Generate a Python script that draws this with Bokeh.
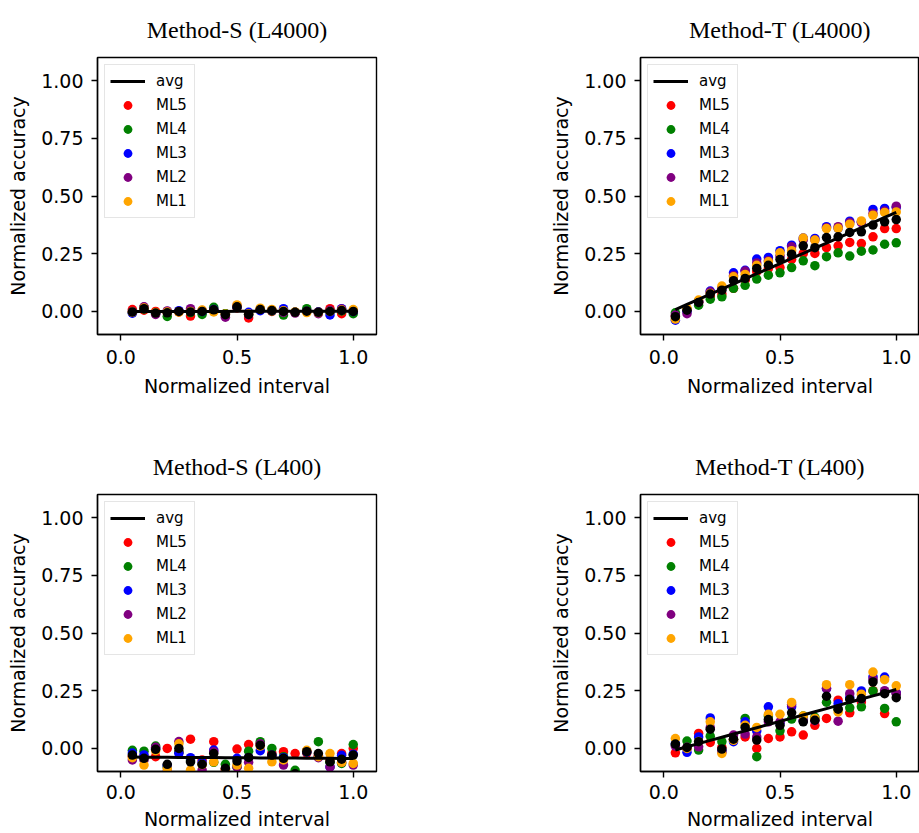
import numpy as np
from bokeh.plotting import figure
from bokeh.layouts import column, row
from bokeh.models import Legend, LegendItem, FixedTicker, PrintfTickFormatter, Range1d
from bokeh.embed import file_html
from bokeh.resources import INLINE

# Normalized interval positions shared by all panels
interval = [0.05, 0.10, 0.15, 0.20, 0.25, 0.30, 0.35, 0.40, 0.45, 0.50,
            0.55, 0.60, 0.65, 0.70, 0.75, 0.80, 0.85, 0.90, 0.95, 1.00]

# Method-S (L4000)
s4000_ml5 = [0.008, 0.005, 0.000, -0.005, -0.002, -0.020, -0.004, 0.005, -0.010, 0.015,
             -0.028, 0.008, 0.000, 0.003, -0.004, 0.000, -0.002, 0.012, -0.010, 0.000]
s4000_ml4 = [-0.005, 0.010, -0.010, -0.022, 0.000, -0.005, -0.013, 0.018, -0.010, 0.018,
             -0.012, 0.008, 0.002, -0.016, -0.004, 0.012, -0.004, -0.001, 0.002, -0.010]
s4000_ml3 = [-0.008, 0.018, -0.008, 0.000, 0.003, 0.005, 0.000, 0.008, -0.015, 0.020,
             -0.004, 0.003, 0.004, 0.012, -0.004, 0.000, -0.003, -0.015, 0.012, 0.000]
s4000_ml2 = [0.000, 0.020, -0.013, 0.002, 0.000, 0.012, 0.004, 0.006, -0.025, 0.025,
             -0.015, 0.010, 0.006, -0.004, -0.007, 0.000, -0.010, 0.005, 0.010, 0.002]
s4000_ml1 = [-0.003, 0.015, -0.005, -0.002, -0.003, 0.000, 0.006, -0.002, -0.012, 0.028,
             -0.010, 0.014, 0.008, 0.003, -0.002, -0.005, -0.005, 0.000, 0.006, 0.008]
s4000_avg = [-0.002, 0.012, -0.007, -0.006, 0.000, -0.002, 0.000, 0.007, -0.014, 0.020,
             -0.013, 0.008, 0.004, 0.000, -0.004, 0.001, -0.004, 0.000, 0.004, 0.000]

# Method-T (L4000)
t4000_ml5 = [-0.020, 0.010, 0.040, 0.065, 0.075, 0.100, 0.135, 0.172, 0.186, 0.190,
             0.225, 0.251, 0.251, 0.276, 0.284, 0.299, 0.294, 0.323, 0.359, 0.359]
t4000_ml4 = [-0.006, 0.008, 0.027, 0.053, 0.063, 0.100, 0.113, 0.140, 0.157, 0.167,
             0.190, 0.219, 0.198, 0.237, 0.254, 0.240, 0.261, 0.266, 0.291, 0.297]
t4000_ml3 = [-0.038, 0.000, 0.045, 0.088, 0.100, 0.167, 0.178, 0.227, 0.234, 0.263,
             0.287, 0.318, 0.316, 0.367, 0.360, 0.391, 0.388, 0.442, 0.446, 0.450]
t4000_ml2 = [-0.016, -0.010, 0.042, 0.085, 0.100, 0.155, 0.175, 0.210, 0.220, 0.240,
             0.280, 0.310, 0.310, 0.362, 0.367, 0.385, 0.385, 0.424, 0.435, 0.456]
t4000_ml1 = [-0.033, 0.012, 0.049, 0.078, 0.110, 0.150, 0.160, 0.200, 0.215, 0.254,
             0.263, 0.318, 0.309, 0.359, 0.360, 0.378, 0.392, 0.417, 0.429, 0.431]
t4000_avg = [-0.023, 0.005, 0.039, 0.075, 0.092, 0.133, 0.143, 0.186, 0.200, 0.225,
             0.248, 0.284, 0.276, 0.320, 0.323, 0.342, 0.345, 0.374, 0.388, 0.398]

# Method-S (L400)
s400_ml5 = [-0.035, -0.035, -0.036, 0.000, -0.015, 0.040, -0.050, 0.029, -0.090, -0.003,
            0.017, 0.020, -0.020, -0.014, -0.022, -0.020, -0.030, -0.050, -0.022, 0.000]
s400_ml4 = [-0.008, -0.012, 0.010, -0.080, -0.015, -0.050, -0.070, -0.060, -0.069, -0.080,
            -0.012, 0.029, 0.000, -0.036, -0.095, -0.015, 0.029, -0.060, -0.065, 0.017]
s400_ml3 = [-0.020, -0.028, 0.000, -0.075, -0.022, -0.040, -0.060, -0.007, -0.100, -0.043,
            -0.040, -0.010, -0.030, -0.040, -0.140, -0.015, -0.035, -0.080, -0.030, -0.025]
s400_ml2 = [-0.050, -0.050, 0.005, -0.100, 0.030, -0.120, -0.094, -0.014, -0.100, -0.080,
            -0.060, 0.020, -0.035, -0.072, -0.160, -0.012, -0.040, -0.080, -0.060, -0.072]
s400_ml1 = [-0.040, -0.072, -0.010, -0.088, 0.020, -0.094, -0.070, -0.058, -0.090, -0.072,
            -0.086, 0.010, -0.058, -0.050, -0.130, -0.008, -0.036, -0.022, -0.060, -0.065]
s400_avg = [-0.029, -0.043, -0.004, -0.069, 0.000, -0.058, -0.069, -0.022, -0.086, -0.055,
            -0.039, 0.014, -0.029, -0.043, -0.110, -0.014, -0.022, -0.058, -0.047, -0.029]

# Method-T (L400)
t400_ml5 = [-0.019, 0.000, 0.065, 0.026, 0.005, 0.040, 0.050, 0.000, 0.043, 0.050,
            0.072, 0.058, 0.100, 0.130, 0.209, 0.154, 0.201, 0.250, 0.151, 0.240]
t400_ml4 = [0.015, 0.032, -0.007, 0.053, 0.029, 0.040, 0.130, -0.036, 0.140, 0.076,
            0.127, 0.140, 0.135, 0.200, 0.170, 0.176, 0.180, 0.249, 0.173, 0.115]
t400_ml3 = [0.020, -0.017, 0.050, 0.132, -0.010, 0.029, 0.115, 0.075, 0.180, 0.110,
            0.180, 0.120, 0.125, 0.259, 0.194, 0.220, 0.249, 0.310, 0.309, 0.240]
t400_ml2 = [0.010, 0.005, 0.007, 0.090, -0.015, 0.058, 0.062, 0.050, 0.115, 0.115,
            0.190, 0.120, 0.120, 0.260, 0.118, 0.237, 0.215, 0.300, 0.250, 0.237]
t400_ml1 = [0.043, 0.000, 0.030, 0.115, -0.022, 0.035, 0.100, 0.091, 0.148, 0.148,
            0.199, 0.140, 0.130, 0.276, 0.158, 0.276, 0.235, 0.331, 0.298, 0.271]
t400_avg = [0.019, 0.004, 0.029, 0.083, -0.003, 0.040, 0.091, 0.036, 0.125, 0.100,
            0.154, 0.115, 0.122, 0.226, 0.170, 0.213, 0.216, 0.288, 0.237, 0.220]

model_names = ["ML5", "ML4", "ML3", "ML2", "ML1"]
model_colors = ["red", "green", "blue", "purple", "orange"]

x_ticks = [0.0, 0.5, 1.0]
y_ticks = [0.0, 0.25, 0.5, 0.75, 1.0]

SANS = "DejaVu Sans"


def make_panel(title, series, avg, width, height, b_left, b_right, b_top, b_bottom,
               xlab_standoff, xaxis_standoff):
    p = figure(width=width, height=height, output_backend="svg", toolbar_location=None,
               x_range=Range1d(-0.1, 1.1), y_range=Range1d(-0.1, 1.1),
               min_border_left=b_left, min_border_right=b_right,
               min_border_top=b_top, min_border_bottom=b_bottom)
    p.background_fill_color = "white"
    p.border_fill_color = "white"
    p.grid.visible = False
    p.outline_line_color = "black"
    p.outline_line_width = 1.4

    p.title.text = title
    p.title.text_font = "Liberation Serif"
    p.title.text_font_size = "24px"
    p.title.text_font_style = "normal"
    p.title.text_color = "black"
    p.title.align = "center"
    p.title.standoff = 29

    for ax, ticks, fmt, lab in ((p.xaxis[0], x_ticks, "%.1f", "Normalized interval"),
                                (p.yaxis[0], y_ticks, "%.2f", "Normalized accuracy")):
        ax.ticker = FixedTicker(ticks=ticks)
        ax.formatter = PrintfTickFormatter(format=fmt)
        ax.axis_label = lab
        ax.axis_label_text_font = SANS
        ax.axis_label_text_font_size = "19px"
        ax.axis_label_text_font_style = "normal"
        ax.axis_label_text_color = "black"
        ax.major_label_text_font = SANS
        ax.major_label_text_font_size = "19px"
        ax.major_label_text_color = "black"
        ax.major_tick_out = 6
        ax.major_tick_in = 0
        ax.minor_tick_out = 0
        ax.minor_tick_in = 0
        ax.axis_line_width = 1.4
        ax.major_tick_line_width = 1.4
    p.xaxis.major_label_standoff = xlab_standoff
    p.xaxis.axis_label_standoff = xaxis_standoff
    p.yaxis.major_label_standoff = 8
    p.yaxis.axis_label_standoff = 9

    dots = []
    for vals, color in zip(series, model_colors):
        r = p.scatter(interval, vals, size=9.5, color=color, line_width=0)
        dots.append(r)
    p.scatter(interval, avg, size=9.5, color="black", line_width=0)

    # least-squares trend of the averaged accuracy
    slope, icpt = np.polyfit(interval, avg, 1)
    fit = [slope * xv + icpt for xv in interval]
    line = p.line(interval, fit, color="black", line_width=3)

    items = [LegendItem(label="avg", renderers=[line])]
    items += [LegendItem(label=n, renderers=[r]) for n, r in zip(model_names, dots)]
    legend = Legend(items=items, location="top_left")
    legend.margin = 7
    legend.padding = 5
    legend.spacing = 2
    legend.glyph_height = 22
    legend.glyph_width = 35
    legend.label_height = 22
    legend.label_width = 33
    legend.label_standoff = 11
    legend.label_text_font = SANS
    legend.label_text_font_size = "15px"
    legend.label_text_color = "black"
    legend.border_line_color = "#cccccc"
    legend.border_line_width = 1
    legend.background_fill_color = "white"
    legend.background_fill_alpha = 0.8
    p.add_layout(legend)
    return p


p1 = make_panel("Method-S (L4000)",
                [s4000_ml5, s4000_ml4, s4000_ml3, s4000_ml2, s4000_ml1], s4000_avg,
                543, 400, 97, 167, 57, 66, 9, 8)
p2 = make_panel("Method-T (L4000)",
                [t4000_ml5, t4000_ml4, t4000_ml3, t4000_ml2, t4000_ml1], t4000_avg,
                376, 400, 97, 0, 57, 66, 9, 8)
p3 = make_panel("Method-S (L400)",
                [s400_ml5, s400_ml4, s400_ml3, s400_ml2, s400_ml1], s400_avg,
                543, 433, 97, 167, 94, 62, 7, 6)
p4 = make_panel("Method-T (L400)",
                [t400_ml5, t400_ml4, t400_ml3, t400_ml2, t400_ml1], t400_avg,
                376, 433, 97, 0, 94, 62, 7, 6)

layout = column(row(p1, p2), row(p3, p4))
open("out.html", "w").write(file_html(layout, INLINE))
